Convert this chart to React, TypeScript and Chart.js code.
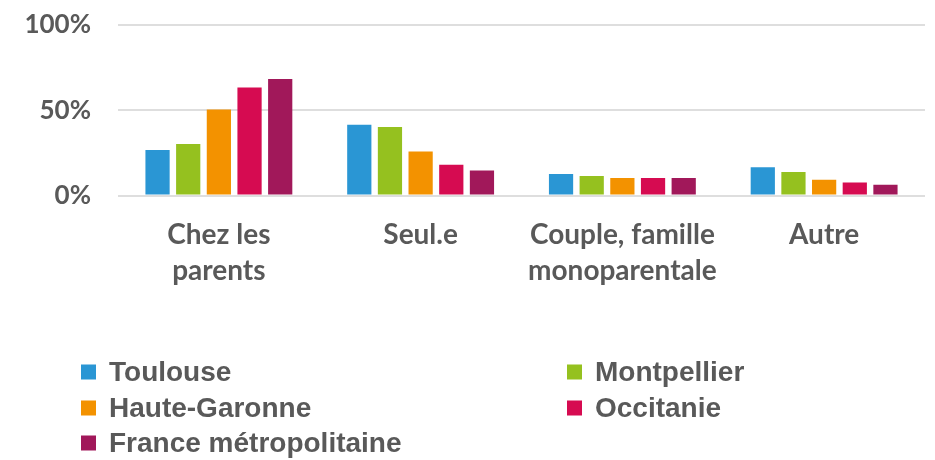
import React, { useEffect, useRef } from "react";
import { Chart, registerables } from "chart.js";

Chart.register(...registerables);

const categories: (string | string[])[] = [
  ["Chez les", "parents"],
  "Seul.e",
  ["Couple, famille", "monoparentale"],
  "Autre",
];

const seriesNames = [
  "Toulouse",
  "Montpellier",
  "Haute-Garonne",
  "Occitanie",
  "France métropolitaine",
];

const toulouse = [26.7, 41.5, 12.6, 16.5];
const montpellier = [30.2, 40.2, 11.4, 13.8];
const hauteGaronne = [50.5, 25.8, 10.3, 9.2];
const occitanie = [63.3, 18.0, 10.3, 7.6];
const franceMetro = [68.4, 14.6, 10.3, 6.3];

const seriesColors = ["#2a96d4", "#95c11f", "#f39200", "#d60b51", "#a1185a"];

const yTicks = [0, 50, 100];

const TEXT_COLOR = "#595959";
const AXIS_FONT = "Lato";

const gridLegend = {
  id: "gridLegend",
  afterDraw(chart: any) {
    const ctx = chart.ctx;
    const cols = [81, 567];
    const rows = [372, 408, 443];
    const box = 15;
    const gap = 13;
    ctx.save();
    ctx.font = "bold 28px 'Liberation Sans', Arial, sans-serif";
    ctx.textBaseline = "middle";
    ctx.textAlign = "left";
    chart.data.datasets.forEach((ds: any, i: number) => {
      const x = cols[i % 2];
      const y = rows[Math.floor(i / 2)];
      ctx.fillStyle = ds.backgroundColor;
      ctx.fillRect(x, y - box / 2, box, box);
      ctx.fillStyle = TEXT_COLOR;
      ctx.fillText(ds.label, x + box + gap, y + 1);
    });
    ctx.restore();
  },
};

export default function App() {
  const canvasRef = useRef<HTMLCanvasElement | null>(null);

  useEffect(() => {
    if (!canvasRef.current) return;
    const values = [toulouse, montpellier, hauteGaronne, occitanie, franceMetro];
    const chart = new Chart(canvasRef.current, {
      type: "bar",
      data: {
        labels: categories as any,
        datasets: seriesNames.map((name, i) => ({
          label: name,
          data: values[i],
          backgroundColor: seriesColors[i],
          borderWidth: 0,
          categoryPercentage: 0.76,
          barPercentage: 0.79,
        })),
      },
      options: {
        animation: false,
        responsive: true,
        maintainAspectRatio: false,
        layout: { padding: { top: 25, right: 10, left: 0, bottom: 0 } },
        plugins: {
          legend: { display: false },
          tooltip: { enabled: false },
        },
        scales: {
          x: {
            grid: { display: false, drawTicks: false },
            border: { display: false },
            ticks: {
              color: TEXT_COLOR,
              padding: 22,
              maxRotation: 0,
              autoSkip: false,
              font: { family: AXIS_FONT, size: 28, weight: "bold", lineHeight: 1.28 },
            },
            afterFit(scale: any) {
              scale.height = 264.5;
            },
          },
          y: {
            min: 0,
            max: 100,
            grid: { color: "#dedede", lineWidth: 2, drawTicks: false },
            border: { display: false },
            afterBuildTicks(scale: any) {
              scale.ticks = yTicks.map((v) => ({ value: v }));
            },
            ticks: {
              color: TEXT_COLOR,
              padding: 27,
              font: { family: AXIS_FONT, size: 26, weight: "bold" },
              callback: (v: any) => `${v}%`,
            },
            afterFit(scale: any) {
              scale.width = 118;
              scale.paddingTop = 0;
              scale.paddingBottom = 0;
            },
          },
        },
      },
      plugins: [gridLegend],
    });
    return () => chart.destroy();
  }, []);

  return (
    <div style={{ position: "absolute", left: 0, top: 0, width: 935, height: 460, background: "#fff" }}>
      <canvas ref={canvasRef} style={{ width: "100%", height: "100%" }} />
    </div>
  );
}
